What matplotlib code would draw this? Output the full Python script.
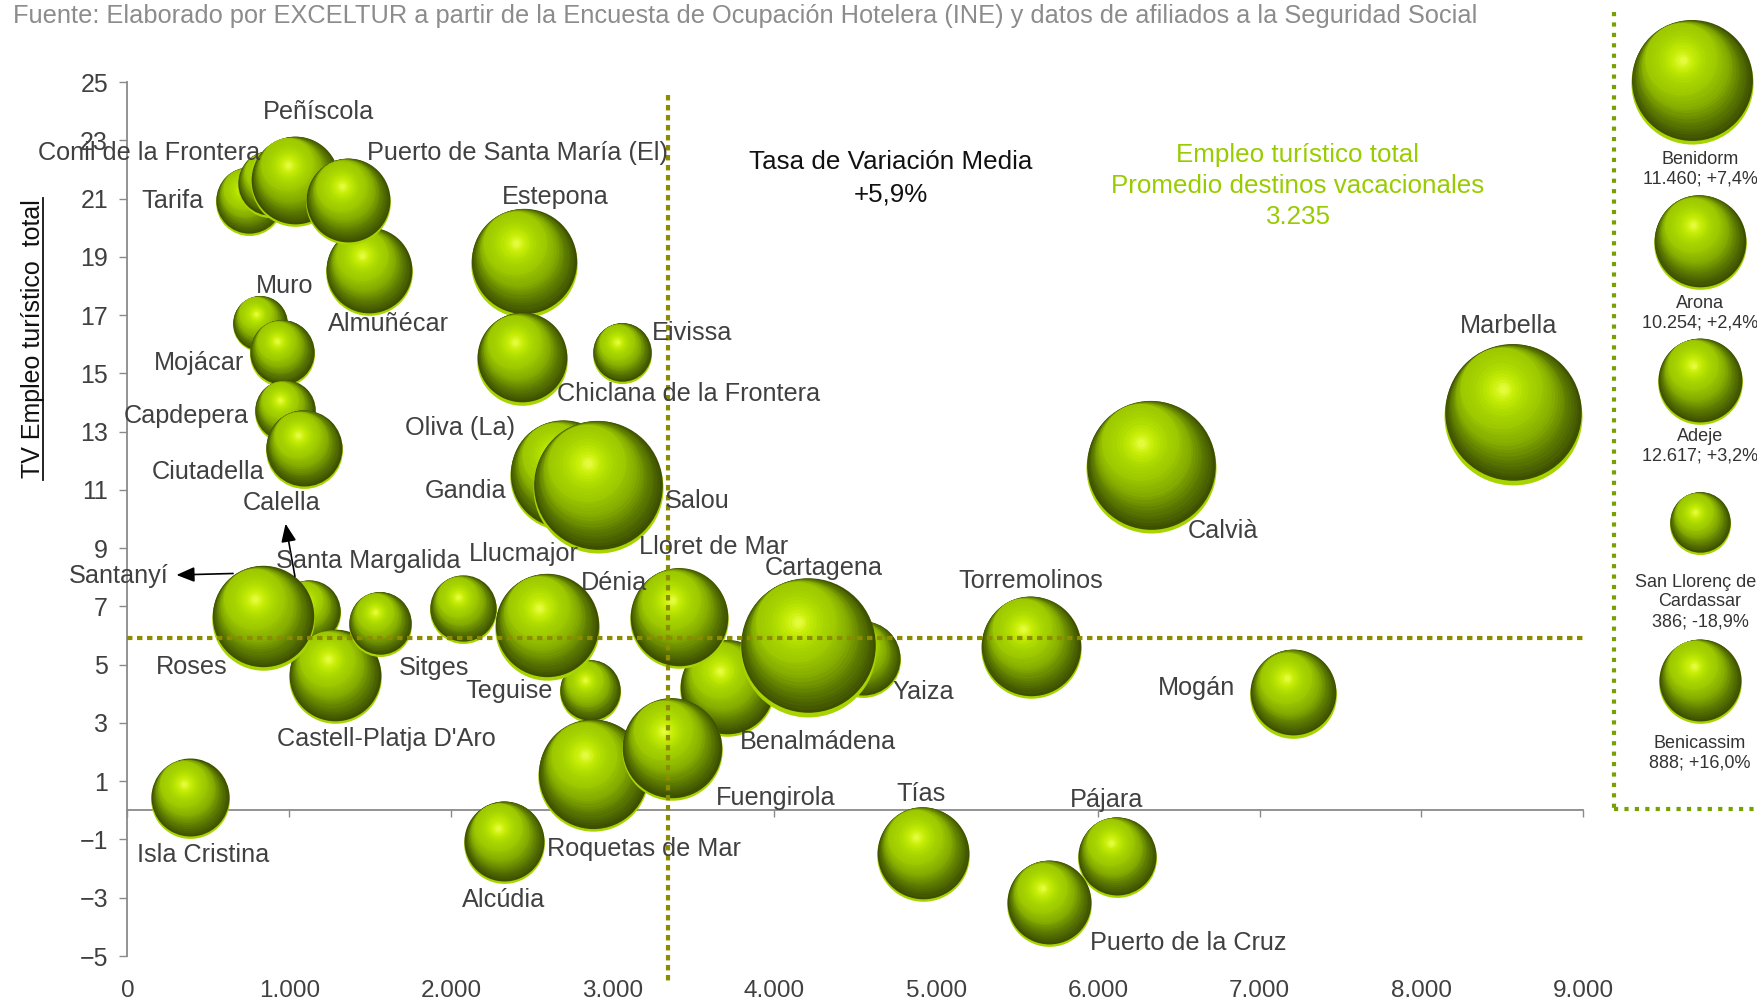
# Gráfico de burbujas: empleo turístico total vs tasa de variación (destinos vacacionales)

import matplotlib
matplotlib.use("Agg")
import matplotlib.pyplot as plt
import numpy as np
from matplotlib.colors import to_rgb
from matplotlib.lines import Line2D
from matplotlib.ticker import FuncFormatter
from matplotlib.transforms import offset_copy

# ---- datos (orden = orden de dibujo, el último queda delante) ----
destinos = ["Tarifa", "Conil de la Frontera", "Peñíscola", "Almuñécar",
            "Puerto de Santa María (El)", "Estepona", "Chiclana de la Frontera",
            "Eivissa", "Muro", "Mojácar", "Capdepera", "Ciutadella", "Oliva (La)",
            "Gandia", "Salou", "Marbella", "Calvià", "Santanyí", "Calella",
            "Santa Margalida", "Castell-Platja D'Aro", "Roses", "Sitges", "Llucmajor",
            "Teguise", "Dénia", "Benalmádena", "Lloret de Mar", "Yaiza", "Cartagena",
            "Torremolinos", "Mogán", "Roquetas de Mar", "Fuengirola", "Isla Cristina",
            "Alcúdia", "Tías", "Pájara", "Puerto de la Cruz"]
empleo = [751, 881, 1036, 1493, 1366, 2452, 2440, 3058, 819, 955, 974, 1091, 2706,
          2697, 2907, 8568, 6330, 758, 955, 1122, 1283, 838, 1561, 2075, 2860, 2594,
          3708, 3411, 4548, 4208, 5587, 7208, 2879, 3367, 387, 2331, 4920, 6119, 5698]
tv_empleo = [20.9, 21.5, 21.6, 18.5, 20.9, 18.8, 15.5, 15.7, 16.7, 15.7, 13.7, 12.4,
             11.7, 11.5, 11.1, 13.6, 11.8, 7.1, 7.1, 6.8, 4.6, 6.6, 6.4, 6.9, 4.1, 6.3,
             4.2, 6.6, 5.2, 5.6, 5.6, 4.0, 1.2, 2.1, 0.4, -1.1, -1.5, -1.6, -3.2]
# tamaño de burbuja (radio)
burbuja = [34, 33, 45, 44, 43, 54, 46, 30, 28, 33, 31, 39, 45, 55, 66, 70, 66, 28, 25,
           32, 47, 52, 32, 34, 31, 53, 48, 50, 38, 69, 51, 44, 56, 51, 40, 41, 47, 40, 43]

media_tv = 5.9
linea_empleo = 3340

ley_nombres = ["Benidorm", "Arona", "Adeje", "San Llorenç des\nCardassar", "Benicassim"]
ley_valores = ["11.460; +7,4%", "10.254; +2,4%", "12.617; +3,2%", "386; -18,9%", "888; +16,0%"]
ley_burbuja = [62, 47, 43, 31, 42]

# ---- colocación de etiquetas (px respecto al centro de la burbuja) ----
etiquetas = {
    "Tarifa": (-45, 0, "right"), "Conil de la Frontera": (-10, -31, "right"),
    "Peñíscola": (23, -69, "center"), "Almuñécar": (-41, 53, "left"),
    "Puerto de Santa María (El)": (19, -48, "left"), "Estepona": (31, -66, "center"),
    "Chiclana de la Frontera": (35, 35, "left"), "Eivissa": (30, -20, "left"),
    "Muro": (25, -38, "center"), "Mojácar": (-38, 10, "right"),
    "Capdepera": (-36, 5, "right"), "Ciutadella": (-39, 23, "right"),
    "Oliva (La)": (-50, -41, "right"), "Gandia": (-57, 16, "right"),
    "Salou": (67, 14, "left"), "Marbella": (-5, -88, "center"),
    "Calvià": (37, 64, "left"), "Santa Margalida": (-33, -51, "left"),
    "Castell-Platja D'Aro": (-58, 63, "left"), "Roses": (-107, 49, "left"),
    "Sitges": (19, 44, "left"), "Llucmajor": (6, -55, "left"),
    "Teguise": (-37, 0, "right"), "Dénia": (34, -44, "left"),
    "Benalmádena": (13, 54, "left"), "Lloret de Mar": (-40, -71, "left"),
    "Yaiza": (29, 33, "left"), "Cartagena": (16, -79, "center"),
    "Torremolinos": (0, -66, "center"), "Mogán": (-58, -6, "right"),
    "Roquetas de Mar": (-46, 74, "left"), "Fuengirola": (44, 49, "left"),
    "Isla Cristina": (-53, 56, "left"), "Alcúdia": (-1, 58, "center"),
    "Tías": (-2, -60, "center"), "Pájara": (-11, -57, "center"),
    "Puerto de la Cruz": (41, 39, "left"),
}
# etiquetas con flecha: (origen flecha, texto respecto al origen, alineación)
flechas = {"Santanyí": ((-17, -30), (-65, 3), "right"),
           "Calella": ((13, -27), (-13, -73), "center")}

W, H = 1758, 1002
fig = plt.figure(figsize=(W / 100, H / 100), dpi=100, facecolor="white")
PX = 72 / fig.dpi

FUENTE = ["Liberation Sans", "DejaVu Sans"]
GRIS_TXT = "#404040"
GRIS_EJE = "#8a8a8a"
OLIVA = "#8c8c00"
VERDE = "#99cc00"
TAM_ETIQ = 18.2

ax = fig.add_axes([127.5 / W, 1 - 956 / H, (1583 - 127.5) / W, (956 - 82) / H])
ax.set_xlim(0, 9000)
ax.set_ylim(-5, 25)


def mezcla(paradas, t):
    pos = np.linspace(0, 1, len(paradas))
    rgb = np.array([to_rgb(c) for c in paradas])
    return tuple(np.interp(t, pos, rgb[:, k]) for k in range(3))


CUERPO = ["#3e5000", "#5c7a00", "#84ab00", "#9cc700"]
BRILLO = ["#9cc700", "#addb00", "#c8ee08", "#e4fb3c"]


def esfera(eje, x, y, r, z=3):
    rp = r * PX

    def capa(cx, cy, f, color):
        tr = offset_copy(eje.transData, fig=fig, x=cx * rp, y=cy * rp, units="points")
        eje.scatter([x], [y], s=(2 * f * rp) ** 2, color=[color], transform=tr,
                    linewidths=0, zorder=z, clip_on=False)

    capa(0, -0.02, 0.985, "#a8d400")  # reflejo inferior
    for t in np.linspace(0, 1, 16):
        capa(-0.17 * t, 0.03 + 0.34 * t, 0.975 - 0.40 * t, mezcla(CUERPO, t))
    for t in np.linspace(0, 1, 13)[1:]:
        capa(-0.17 + 0.02 * t, 0.37 - 0.01 * t, 0.575 * (1 - t) ** 1.1 + 0.06,
             mezcla(BRILLO, t ** 1.4))


for nombre, x, y, r in zip(destinos, empleo, tv_empleo, burbuja):
    esfera(ax, x, y, r)

for nombre, x, y in zip(destinos, empleo, tv_empleo):
    if nombre in etiquetas:
        dx, dy, ha = etiquetas[nombre]
        ax.annotate(nombre, xy=(x, y), xytext=(dx * PX, -dy * PX),
                    textcoords="offset points", ha=ha, va="center", fontsize=TAM_ETIQ,
                    family=FUENTE, color=GRIS_TXT, zorder=60, annotation_clip=False)
    elif nombre in flechas:
        (ox, oy), (tx, ty), ha = flechas[nombre]
        origen = offset_copy(ax.transData, fig=fig, x=ox * PX, y=-oy * PX, units="points")
        ax.annotate(nombre, xy=(x, y), xycoords=origen, xytext=(tx * PX, -ty * PX),
                    textcoords="offset points", ha=ha, va="center", fontsize=TAM_ETIQ,
                    family=FUENTE, color=GRIS_TXT, zorder=60, annotation_clip=False,
                    arrowprops=dict(arrowstyle="<|-,head_length=0.6,head_width=0.25",
                                    color="black", lw=1.2, shrinkA=4, shrinkB=0))

# líneas de media
ax.axhline(media_tv, color=OLIVA, lw=3, linestyle=(0, (1.3, 1.1)),
           dash_capstyle="butt", zorder=40)
ax.plot([linea_empleo, linea_empleo], [24.55, -6.0], color=OLIVA, lw=3,
        linestyle=(0, (1.3, 1.1)), dash_capstyle="butt", zorder=40, clip_on=False)

# ejes
for lado in ["top", "right"]:
    ax.spines[lado].set_visible(False)
ax.spines["left"].set_color(GRIS_EJE)
ax.spines["left"].set_linewidth(1.3)
ax.spines["bottom"].set_position(("data", 0))
ax.spines["bottom"].set_color(GRIS_EJE)
ax.spines["bottom"].set_linewidth(1.3)
ax.set_yticks(np.arange(-5, 26, 2))
ax.set_xticks(np.arange(0, 9001, 1000))
ax.tick_params(axis="x", labelbottom=False, direction="out", length=5, width=1,
               color=GRIS_EJE)
ax.tick_params(axis="y", direction="out", length=6, width=1, color=GRIS_EJE, pad=8,
               labelsize=18, labelcolor=GRIS_TXT)
for lab in ax.get_yticklabels():
    lab.set_family(FUENTE)

sec = ax.secondary_xaxis("bottom")
sec.set_xticks(np.arange(0, 9001, 1000))
sec.xaxis.set_major_formatter(FuncFormatter(lambda v, p: f"{int(v):,}".replace(",", ".")))
sec.spines["bottom"].set_visible(False)
sec.tick_params(length=0, pad=17, labelsize=17.5, labelcolor=GRIS_TXT)
for lab in sec.get_xticklabels():
    lab.set_family(FUENTE)

# título del eje Y (subrayado)
fig.text(40 / W, 1 - 339 / H, "TV Empleo turístico  total", rotation=90,
         rotation_mode="anchor", ha="center", va="baseline", fontsize=18,
         family=FUENTE, color="#111111")
fig.add_artist(Line2D([43 / W, 43 / W], [1 - 480 / H, 1 - 198 / H],
                      transform=fig.transFigure, color="#111111", lw=1.3))

# textos
fig.text(13 / W, 1 - 16 / H,
         "Fuente: Elaborado por EXCELTUR a partir de la Encuesta de Ocupación Hotelera "
         "(INE) y datos de afiliados a la Seguridad Social",
         ha="left", va="center", fontsize=18.3, family=FUENTE, color="#8c8c8c")
fig.text(891 / W, 1 - 178 / H, "Tasa de Variación Media\n+5,9%", ha="center",
         va="center", fontsize=18.7, family=FUENTE, color="#111111", linespacing=1.45)
fig.text(1298 / W, 1 - 186 / H,
         "Empleo turístico total\nPromedio destinos vacacionales\n3.235",
         ha="center", va="center", fontsize=18.7, family=FUENTE, color=VERDE,
         linespacing=1.36)

# leyenda de burbujas
ax_ley = fig.add_axes([1642 / W, 0, 116 / W, 1])
ax_ley.set_xlim(0, 1)
ax_ley.set_ylim(H, 0)
ax_ley.axis("off")
ley_x = [0.43, 0.5, 0.5, 0.5, 0.5]
ley_y = [82, 242, 381, 523, 681]
ley_txt_y = [169, 313, 446, 602, 753]
for nom, val, r, bx, by, ty in zip(ley_nombres, ley_valores, ley_burbuja, ley_x,
                                    ley_y, ley_txt_y):
    esfera(ax_ley, bx, by, r)
    ax_ley.text(0.5, ty, nom + "\n" + val, ha="center", va="center", fontsize=13,
                family=FUENTE, color="#333333", linespacing=1.2, clip_on=False)

VERDE_LEY = "#78a000"
fig.add_artist(Line2D([1614 / W, 1614 / W], [1 - 12 / H, 1 - 809 / H],
                      transform=fig.transFigure, color=VERDE_LEY, lw=3,
                      linestyle=(0, (1, 1.5)), dash_capstyle="butt"))
fig.add_artist(Line2D([1614 / W, 1], [1 - 809 / H, 1 - 809 / H],
                      transform=fig.transFigure, color=VERDE_LEY, lw=3,
                      linestyle=(0, (1, 1.5)), dash_capstyle="butt"))

fig.savefig("out.png", dpi=100, facecolor="white")
